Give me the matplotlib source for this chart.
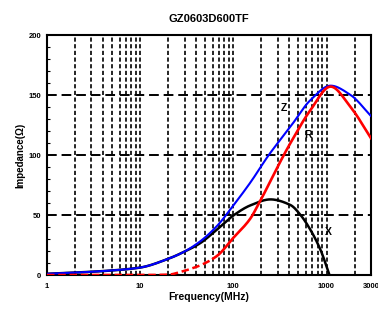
import numpy as np
import matplotlib.pyplot as plt

plt.rcParams['font.family'] = ['Liberation Sans', 'DejaVu Sans']

# ---------------- data ----------------
f_z = [1, 2, 5, 10, 20, 29, 44, 67, 100, 152, 240, 410, 673, 1105, 1811, 3000]
z = [1.0, 2.0, 3.8, 6.2, 13.5, 19, 28, 41, 58, 77, 100, 123.6, 145.8, 157.8, 150, 132.5]

f_r = [1, 10, 20, 27, 37.5, 44, 67, 100, 152, 186, 348, 410, 673, 1105, 1811, 3000]
r = [0, 0, 0.3, 2.5, 6, 8, 16, 31, 47, 59, 100, 110, 137.5, 157, 140, 114]

f_x = [1, 2, 5, 10, 20, 29, 44, 67, 100, 152, 250, 410, 526, 673, 861, 1075]
x = [1.0, 2.0, 3.8, 6.2, 13.5, 19, 26.5, 38, 49.6, 58, 63, 58.3, 50, 37.5, 21, 0]

xticks = [1, 10, 100, 1000, 3000]
yticks = [0, 50, 100, 150, 200]


# monotone cubic (pchip) through the read points, in log f
def pchip(fs, vs, n=500):
    xk = np.log10(np.asarray(fs, float))
    yk = np.asarray(vs, float)
    h = np.diff(xk)
    d = np.diff(yk) / h
    m = np.zeros_like(yk)
    for i in range(1, len(yk) - 1):
        if d[i - 1] * d[i] > 0:
            w1 = 2 * h[i] + h[i - 1]
            w2 = h[i] + 2 * h[i - 1]
            m[i] = (w1 + w2) / (w1 / d[i - 1] + w2 / d[i])
    m[0] = d[0]
    m[-1] = d[-1]
    t = np.linspace(xk[0], xk[-1], n)
    idx = np.clip(np.searchsorted(xk, t) - 1, 0, len(h) - 1)
    s = (t - xk[idx]) / h[idx]
    h00 = 2 * s**3 - 3 * s**2 + 1
    h10 = s**3 - 2 * s**2 + s
    h01 = -2 * s**3 + 3 * s**2
    h11 = s**3 - s**2
    v = h00 * yk[idx] + h10 * h[idx] * m[idx] + h01 * yk[idx + 1] + h11 * h[idx] * m[idx + 1]
    return 10 ** t, v


fig = plt.figure(figsize=(3.78, 3.09), dpi=100)
ax = fig.add_axes([47 / 378, 1 - 275 / 309, 324 / 378, 240 / 309])

# grid
for dec in [1, 10, 100, 1000]:
    for k in range(1, 10):
        v = dec * k
        if 1 < v < 3000:
            ax.axvline(v, color='k', lw=1.2, ls=(0, (2.5, 1.5)), zorder=1)
for yv in [50, 100, 150]:
    ax.axhline(yv, color='k', lw=1.4, ls=(0, (5, 2.5)), zorder=1)

fz, zz = pchip(f_z, z)
fr, rr = pchip(f_r, r)
fx, xx = pchip(f_x, x)

ax.plot(fx, xx, color='k', lw=1.8, zorder=3)
ax.plot(fz, zz, color='#0000ff', lw=1.5, zorder=4)
low = fr < 60
ax.plot(fr[low], rr[low], color='#ff0000', lw=1.8, ls=(0, (3, 1.5)), zorder=4)
ax.plot(fr[~low], rr[~low], color='#ff0000', lw=1.9, zorder=4)

ax.text(346, 139, 'Z', fontsize=7.5, fontweight='bold', ha='center', va='center')
ax.text(625, 117, 'R', fontsize=7.5, fontweight='bold', ha='center', va='center')
ax.text(1043, 36, 'X', fontsize=7.5, fontweight='bold', ha='center', va='center')

ax.set_xscale('log')
ax.set_xlim(1, 3000)
ax.set_ylim(0, 200)
ax.set_xticks(xticks)
ax.set_xticklabels([str(t) for t in xticks], fontsize=5.5, fontweight='bold')
ax.xaxis.set_minor_locator(plt.NullLocator())
ax.set_yticks(yticks)
ax.set_yticklabels([str(t) for t in yticks], fontsize=5.5, fontweight='bold')
ax.set_yticks(np.arange(0, 201, 10), minor=True)
ax.tick_params(axis='y', which='major', direction='in', length=0, pad=4)
ax.tick_params(axis='y', which='minor', direction='in', length=2.5, width=0.8)
ax.tick_params(axis='x', which='major', direction='in', length=0, pad=6)
for s in ax.spines.values():
    s.set_linewidth(1.5)

ax.set_title('GZ0603D600TF', fontsize=8, fontweight='bold', pad=9)
ax.set_xlabel('Frequency(MHz)', fontsize=7.5, fontweight='bold', labelpad=1)
ax.yaxis.set_label_coords(-22 / 324, 0.5)
ax.set_ylabel('Impedance(\u03a9)', fontsize=7, fontweight='bold')

fig.savefig('out.png', dpi=100)
